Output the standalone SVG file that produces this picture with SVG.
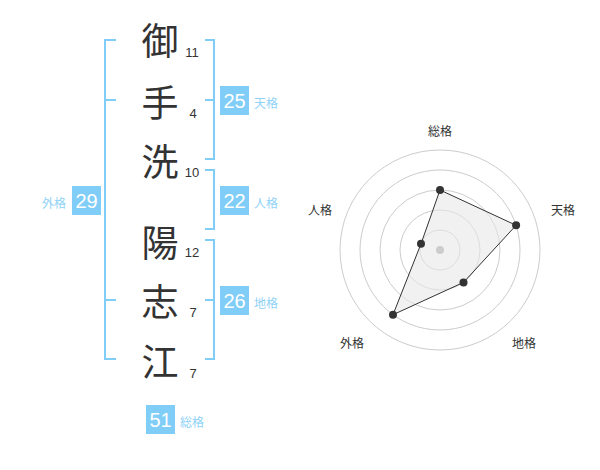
<svg xmlns="http://www.w3.org/2000/svg" width="600" height="470" viewBox="0 0 600 470">
<style>
.ch{font-family:"Noto Sans CJK JP","Noto Sans CJK SC",sans-serif;font-size:37px;fill:#333;text-anchor:middle;dominant-baseline:central}
.num{font-family:"Liberation Sans",Arial,sans-serif;font-size:13px;fill:#333;text-anchor:middle}
.br{fill:none;stroke:#80cdf8;stroke-width:2}
.box{fill:#80cdf8}
.bn{font-family:"Liberation Sans",Arial,sans-serif;font-size:20px;fill:#fff;text-anchor:middle;dominant-baseline:central}
.bl{font-family:"Noto Sans CJK JP","Noto Sans CJK SC",sans-serif;font-size:12px;fill:#8fd2f7;dominant-baseline:central}
.ring{fill:none;stroke:#ccc;stroke-width:1}
.rl{font-family:"Noto Sans CJK JP","Noto Sans CJK SC",sans-serif;font-size:12px;fill:#333;text-anchor:middle;dominant-baseline:central}
.dot{fill:#333}
</style>
<rect width="600" height="470" fill="#fff"/>
<g id="connectors">
<path class="br" d="M116,40 H105 V359 H116 M105,100 H116 M105,300 H116"/>
<path class="br" d="M205,40 H214 V159 H205 M214,100 H205"/>
<path class="br" d="M205,170 H214 V229 H205"/>
<path class="br" d="M205,240 H214 V359 H205 M214,300 H205"/>
</g>
<g id="char1"><text class="ch" x="160" y="39">御</text><text class="num" x="192" y="57">11</text></g>
<g id="char2"><text class="ch" x="160" y="101">手</text><text class="num" x="193" y="118">4</text></g>
<g id="char3"><text class="ch" x="160" y="160">洗</text><text class="num" x="192" y="177">10</text></g>
<g id="char4"><text class="ch" x="160" y="241">陽</text><text class="num" x="192" y="257">12</text></g>
<g id="char5"><text class="ch" x="160" y="300">志</text><text class="num" x="193" y="317">7</text></g>
<g id="char6"><text class="ch" x="160" y="360">江</text><text class="num" x="193" y="378">7</text></g>
<g id="tenkaku"><rect class="box" x="220" y="86" width="29" height="29"/><text class="bn" x="234.5" y="101">25</text><text class="bl" x="254" y="102">天格</text></g>
<g id="jinkaku"><rect class="box" x="220" y="186" width="29" height="29"/><text class="bn" x="234.5" y="201">22</text><text class="bl" x="254" y="202">人格</text></g>
<g id="chikaku"><rect class="box" x="220" y="286" width="29" height="29"/><text class="bn" x="234.5" y="301">26</text><text class="bl" x="254" y="302">地格</text></g>
<g id="gaikaku"><rect class="box" x="72" y="186" width="29" height="29"/><text class="bn" x="86.5" y="201">29</text><text class="bl" x="42" y="202">外格</text></g>
<g id="soukaku"><rect class="box" x="146" y="405" width="29" height="29"/><text class="bn" x="160.5" y="420">51</text><text class="bl" x="180" y="421">総格</text></g>
<g id="radar">
<circle class="ring" cx="440" cy="250" r="20"/>
<circle class="ring" cx="440" cy="250" r="40"/>
<circle class="ring" cx="440" cy="250" r="60"/>
<circle class="ring" cx="440" cy="250" r="80"/>
<circle class="ring" cx="440" cy="250" r="100"/>
<polygon points="440,190 516.1,225.3 463.5,282.4 393,314.7 421,243.8" fill="#e8e8e8" fill-opacity="0.6" stroke="#333" stroke-width="1"/>
<circle cx="440" cy="250" r="4" fill="#ccc"/>
<circle class="dot" cx="440" cy="190" r="4"/>
<circle class="dot" cx="516.1" cy="225.3" r="4"/>
<circle class="dot" cx="463.5" cy="282.4" r="4"/>
<circle class="dot" cx="393" cy="314.7" r="4"/>
<circle class="dot" cx="421" cy="243.8" r="4"/>
<text class="rl" x="440" y="130">総格</text>
<text class="rl" x="563" y="209">天格</text>
<text class="rl" x="524" y="342">地格</text>
<text class="rl" x="352" y="342">外格</text>
<text class="rl" x="320" y="209">人格</text>
</g>
</svg>
